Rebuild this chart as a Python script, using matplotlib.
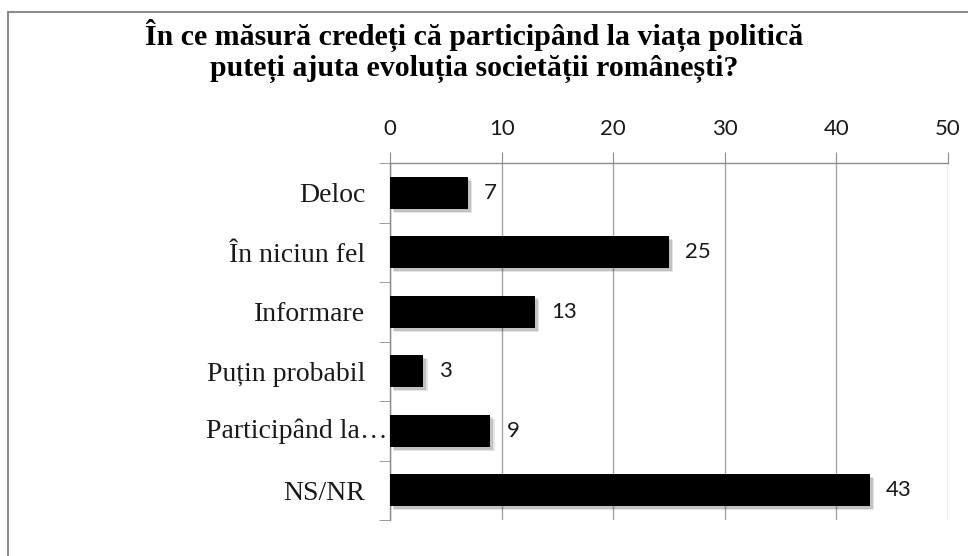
import matplotlib
matplotlib.use("Agg")
import matplotlib.pyplot as plt
import matplotlib.patheffects as pe
from matplotlib.patches import Rectangle
import numpy as np

title = "În ce măsură credeți că participând la viața politică\nputeți ajuta evoluția societății românești?"
categories = ["Deloc", "În niciun fel", "Informare", "Puțin probabil", "Participând la…", "NS/NR"]
values = [7, 25, 13, 3, 9, 43]
xticks = [0, 10, 20, 30, 40, 50]

fig = plt.figure(figsize=(9.68, 5.56), dpi=100)
fig.patch.set_facecolor("white")

# outer chart border (left/top visible)
fig.patches.append(Rectangle((8/968, -0.2), 1.2, 1.2 - 12/556, transform=fig.transFigure,
                             fill=False, edgecolor="#8c8c8c", linewidth=1.5))

ax = fig.add_axes([390/968, 1-520/556, (948-390)/968, (520-163)/556])
y = np.arange(len(categories))
shadow = [pe.SimplePatchShadow(offset=(3, -3), shadow_rgbFace="#000000", alpha=0.10),
          pe.SimplePatchShadow(offset=(2, -2), shadow_rgbFace="#000000", alpha=0.15),
          pe.Normal()]
bars = ax.barh(y, values, height=0.54, color="black", zorder=3)
for b in bars:
    b.set_path_effects(shadow)

ax.set_xlim(0, 50)
ax.set_ylim(len(categories)-0.5, -0.5)
ax.set_xticks(xticks)
ax.xaxis.tick_top()
ax.tick_params(axis="x", which="major", direction="out", length=8, color="#8c8c8c",
               labelsize=16, pad=9, labelcolor="#1a1a1a")
for lab in ax.get_xticklabels():
    lab.set_fontfamily(["Lato", "DejaVu Sans"])
ax.grid(axis="x", color="#a6a6a6", linewidth=1, zorder=0)
ax.set_axisbelow(True)

ylabels = [c if not c.endswith("…") else "" for c in categories]
ax.set_yticks(y)
ax.set_yticklabels(ylabels, fontfamily=["Liberation Serif", "DejaVu Serif"], fontsize=20)
ax.tick_params(axis="y", which="major", length=0, pad=18, labelcolor="#1a1a1a")
ax.set_yticks(np.arange(-0.5, len(categories), 1), minor=True)
ax.tick_params(axis="y", which="minor", direction="out", length=8, color="#8c8c8c")
# truncated label sits closer to the axis, as in the original
for yi, c in zip(y, categories):
    if c.endswith("…"):
        ax.annotate(c, xy=(0, yi), xycoords=("axes fraction", "data"), xytext=(-2, 0),
                    textcoords="offset pixels", ha="right", va="center", fontsize=20,
                    color="#1a1a1a", fontfamily=["Liberation Serif", "DejaVu Serif"],
                    annotation_clip=False)

for s in ["right", "bottom"]:
    ax.spines[s].set_visible(False)
for s in ["left", "top"]:
    ax.spines[s].set_color("#8c8c8c")
    ax.spines[s].set_linewidth(1)

for yi, v in zip(y, values):
    ax.annotate(str(v), (v, yi), xytext=(16, 0), textcoords="offset pixels",
                ha="left", va="center", fontsize=16, color="#1a1a1a",
                fontfamily=["Lato", "DejaVu Sans"])

fig.text(474/968, 1-51/556, title, ha="center", va="center", fontsize=21.5, fontweight="bold",
         fontfamily=["Liberation Serif", "DejaVu Serif"], linespacing=1.1)

fig.savefig("out.png", dpi=100, facecolor="white")
